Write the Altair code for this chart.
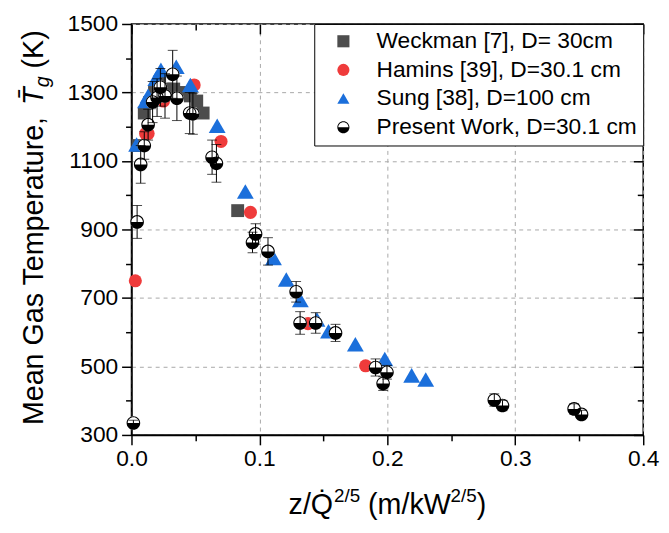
import altair as alt
import pandas as pd

# ---------------- data ----------------
series_names = ["Weckman [7], D= 30cm", "Hamins [39], D=30.1 cm",
                "Sung [38], D=100 cm", "Present Work, D=30.1 cm"]

wk_x = [0.005, 0.010, 0.014, 0.018, 0.022, 0.027, 0.033, 0.040, 0.046, 0.051, 0.056, 0.083]
wk_T = [1145, 1240, 1270, 1300, 1330, 1310, 1310, 1300, 1290, 1275, 1240, 955]

hm_x = [0.003, 0.011, 0.013, 0.025, 0.049, 0.070, 0.093, 0.138, 0.183]
hm_T = [750, 1180, 1180, 1275, 1322, 1157, 950, 625, 502]

sg_x = [0.004, 0.011, 0.013, 0.019, 0.023, 0.035, 0.046, 0.067, 0.089, 0.111,
        0.121, 0.132, 0.145, 0.154, 0.175, 0.198, 0.219, 0.230]
sg_T = [1148, 1275, 1290, 1340, 1366, 1375, 1322, 1203, 1011, 817,
        754, 694, 637, 603, 565, 522, 474, 462]

pw_x = [0.0015, 0.0044, 0.0072, 0.0100, 0.0130, 0.0165, 0.0200, 0.0226, 0.0262, 0.0322,
        0.0355, 0.0455, 0.0480, 0.0630, 0.0664, 0.0946, 0.0970, 0.1067, 0.1287, 0.1318,
        0.1440, 0.1595, 0.1908, 0.1967, 0.1997, 0.2836, 0.2900, 0.3460, 0.3518]
pw_T = [335, 922, 1090, 1145, 1206, 1272, 1285, 1315, 1290, 1353,
        1283, 1240, 1238, 1111, 1093, 862, 887, 836, 718, 627,
        627, 598, 497, 450, 483, 402, 386, 376, 360]
pw_err = [8, 48, 55, 40, 45, 60, 55, 55, 65, 70,
          65, 60, 60, 50, 55, 30, 30, 40, 30, 33,
          30, 25, 25, 20, 20, 18, 15, 15, 12]

x_ticks = [0.0, 0.05, 0.1, 0.15, 0.2, 0.25, 0.3, 0.35, 0.4]
y_ticks = [300, 400, 500, 600, 700, 800, 900, 1000, 1100, 1200, 1300, 1400, 1500]

# ---------------- tables ----------------
wk = pd.DataFrame({"x": wk_x, "T": wk_T, "series": series_names[0]})
hm = pd.DataFrame({"x": hm_x, "T": hm_T, "series": series_names[1]})
sg = pd.DataFrame({"x": sg_x, "T": sg_T, "series": series_names[2]})
pw = pd.DataFrame({"x": pw_x, "T": pw_T, "series": series_names[3],
                   "lo": [t - e for t, e in zip(pw_T, pw_err)],
                   "hi": [t + e for t, e in zip(pw_T, pw_err)]})

HALF = ("M -1 0 A 1 1 0 0 0 1 0 Z "
        "M -1 0 A 1 1 0 0 1 1 0 L 0.84 0 A 0.84 0.84 0 0 0 -0.84 0 Z")

W, H = 518, 416
FONT = "Liberation Sans"
xs = alt.Scale(domain=[0, 0.4], nice=False, zero=False)
ys = alt.Scale(domain=[300, 1500], nice=False, zero=False)
shape_scale = alt.Scale(domain=series_names, range=["square", "circle", "triangle-up", HALF])
fill_scale = alt.Scale(domain=series_names, range=["#4d4d4d", "#ef3b3b", "#1b6fdb", "#000000"])

x_minor = "round(datum.value*100) % 10 != 0"
y_minor = "datum.value % 200 == 0"

x_axis = alt.Axis(values=x_ticks, title="", labelFont=FONT, labelFontSize=23, labelColor="black",
                  labelExpr="round(datum.value*100) % 10 == 0 ? format(datum.value, '.1f') : ''",
                  labelFlush=False, labelOverlap=False, labelPadding=3,
                  domainColor="black", domainWidth=1.5, tickColor="black", tickWidth=1.5,
                  tickSize={"condition": {"test": x_minor, "value": 6}, "value": 10},
                  grid=True, gridColor="#a8a8a8", gridDash=[4, 4], gridWidth=1,
                  gridOpacity={"condition": {"test": x_minor, "value": 0}, "value": 1})
y_axis = alt.Axis(values=y_ticks, title="", labelFont=FONT, labelFontSize=23, labelColor="black",
                  labelExpr="datum.value % 200 == 100 ? '' + datum.value : ''",
                  labelOverlap=False, labelPadding=4,
                  domainColor="black", domainWidth=1.5, tickColor="black", tickWidth=1.5,
                  tickSize={"condition": {"test": y_minor, "value": 6}, "value": 10},
                  grid=True, gridColor="#a8a8a8", gridDash=[4, 4], gridWidth=1,
                  gridOpacity={"condition": {"test": y_minor, "value": 0}, "value": 1})

# mirrored inward ticks on top and right frame
x_axis_top = alt.Axis(values=x_ticks, title="", orient="bottom", offset=-H, labels=False,
                      domain=False, grid=False, tickColor="black", tickWidth=1.5,
                      tickSize={"condition": {"test": x_minor, "value": 6}, "value": 10})
y_axis_right = alt.Axis(values=y_ticks, title="", orient="left", offset=-W, labels=False,
                        domain=False, grid=False, tickColor="black", tickWidth=1.5,
                        tickSize={"condition": {"test": y_minor, "value": 6}, "value": 10})

leg = alt.Legend(title=None)


def series_layer(df, size, xaxis=None, yaxis=None):
    return alt.Chart(df).mark_point(filled=True, opacity=1, strokeWidth=0, size=size).encode(
        x=alt.X("x:Q", scale=xs, axis=xaxis),
        y=alt.Y("T:Q", scale=ys, axis=yaxis),
        shape=alt.Shape("series:N", scale=shape_scale, legend=leg),
        fill=alt.Fill("series:N", scale=fill_scale, legend=leg),
    )


pts_wk = series_layer(wk, 170, x_axis, y_axis)
pts_hm = series_layer(hm, 175)
pts_sg = series_layer(sg, 290)

frame = alt.Chart(wk).mark_point(opacity=0).encode(
    x=alt.X("x:Q", scale=xs, axis=x_axis_top),
    y=alt.Y("T:Q", scale=ys, axis=y_axis_right),
)

base_pw = alt.Chart(pw)
white = base_pw.mark_point(filled=True, opacity=1, color="white", shape="circle", size=190).encode(
    x=alt.X("x:Q", scale=xs, axis=None),
    y=alt.Y("T:Q", scale=ys, axis=None),
)
err = base_pw.mark_rule(color="black", strokeWidth=1).encode(
    x=alt.X("x:Q", scale=xs, axis=None),
    y=alt.Y("lo:Q", scale=ys, axis=None),
    y2="hi:Q",
)
cap_lo = base_pw.mark_tick(color="black", orient="horizontal", size=10, thickness=1).encode(
    x=alt.X("x:Q", scale=xs, axis=None),
    y=alt.Y("lo:Q", scale=ys, axis=None),
)
cap_hi = base_pw.mark_tick(color="black", orient="horizontal", size=10, thickness=1).encode(
    x=alt.X("x:Q", scale=xs, axis=None),
    y=alt.Y("hi:Q", scale=ys, axis=None),
)
pts_pw = series_layer(pw, 190)

one = pd.DataFrame({"a": [0]})


def txt(s, x, y, size, angle=0, style="normal", align="left"):
    return alt.Chart(one).mark_text(text=s, font=FONT, fontSize=size, fontStyle=style,
                                    angle=angle, align=align, baseline="alphabetic",
                                    color="black").encode(x=alt.value(x), y=alt.value(y))


# x-axis title: z/Q̇^(2/5) (m/kW^(2/5))
xt = [
    txt("z/Q\u0307", 159, 496, 29),
    txt("2/5", 205, 484, 19),
    txt("(m/kW", 239.5, 496, 29),
    txt("2/5", 323, 484, 19),
    txt(")", 349.5, 496, 29),
]
# y-axis title: Mean Gas Temperature, T̄_g (K)
yt = [
    txt("Mean Gas Temperature,", -90, 406, 29, angle=270),
    txt("T\u0304", -90, 82, 29, angle=270, style="italic"),
    txt("g", -84, 64, 20, angle=270, style="italic"),
    txt("(K)", -90, 45, 29, angle=270),
]

chart = alt.layer(
    pts_wk, pts_hm, pts_sg, frame, white, err, cap_lo, cap_hi, pts_pw, *xt, *yt
).resolve_axis(
    x="independent", y="independent"
).properties(
    width=W, height=H,
    autosize=alt.AutoSizeParams(type="none"),
    padding={"left": 125, "top": 13, "right": 18, "bottom": 90},
).configure(
    font=FONT
).configure_view(
    stroke="black", strokeWidth=1.5
).configure_legend(
    orient="top-right", offset=0, padding=6, strokeColor="black", strokeWidth=1,
    fillColor="white", labelFont=FONT, labelFontSize=23, labelColor="black",
    symbolSize=150, symbolOffset=12, labelOffset=22, rowPadding=5,
    symbolStrokeWidth=0, cornerRadius=0, labelLimit=400,
)

chart.save("out.html", embed_options={"renderer": "svg", "actions": False})
